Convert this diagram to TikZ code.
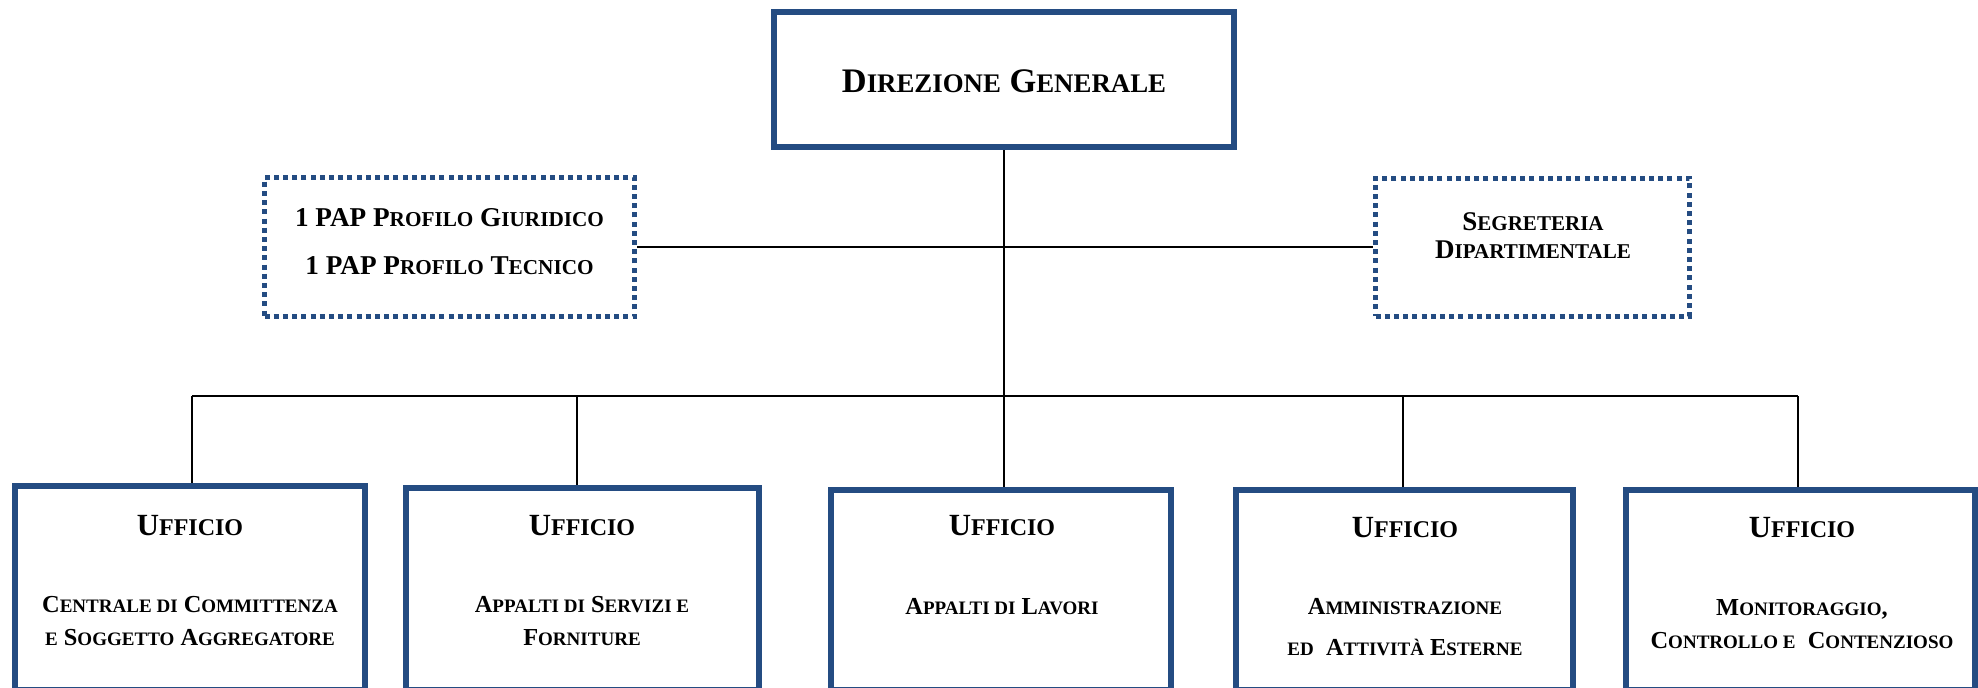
\documentclass[tikz,border=0pt]{standalone}
\usepackage{fontspec}
\setmainfont{Liberation Serif}
\makeatletter
\newcommand\sm[1]{{\@tempdima=\f@size pt \@tempdima=0.78\@tempdima \fontsize{\strip@pt\@tempdima}{0pt}\selectfont #1}}
\makeatother
\definecolor{boxblue}{HTML}{244C82}
\tikzset{
  mainbox/.style={draw=boxblue, line width=3pt, rectangle, inner sep=0pt, fill=white},
  dotbox/.style={draw=boxblue, line width=2.5pt, dash pattern=on 2.5pt off 2.1pt, rectangle, inner sep=0pt, fill=white, align=center},
  conn/.style={draw=black, line width=1pt},
  txt/.style={inner sep=0pt, align=center, font=\bfseries},
}
\begin{document}
\begin{tikzpicture}[x=0.5pt,y=-0.5pt]
\useasboundingbox (0,0) rectangle (1978,687);
% top
\node[mainbox, minimum width=230pt, minimum height=67.5pt] (dg) at (1004,79.5) {};
\node[txt, font=\bfseries\fontsize{17.2}{20}\selectfont] (dgt) at (1004,81) {D\sm{IREZIONE} G\sm{ENERALE}};
% staff boxes
\node[dotbox, minimum width=185pt, minimum height=69.5pt] (pap) at (449.5,247) {};
\node[txt, font=\bfseries\fontsize{13.6}{24}\selectfont] (papt) at (449.5,242) {1 PAP P\sm{ROFILO} G\sm{IURIDICO}\\1 PAP P\sm{ROFILO} T\sm{ECNICO}};
\node[dotbox, minimum width=157pt, minimum height=69pt] (seg) at (1532.5,247) {};
\node[txt, font=\bfseries\fontsize{13.5}{14}\selectfont] (segt) at (1533,236) {S\sm{EGRETERIA}\\D\sm{IPARTIMENTALE}};
% offices
\node[mainbox, minimum width=175pt, minimum height=102pt] (u1) at (190,588) {};
\node[mainbox, minimum width=176.5pt, minimum height=101pt] (u2) at (582.5,589) {};
\node[mainbox, minimum width=170pt, minimum height=100pt] (u3) at (1001,590) {};
\node[mainbox, minimum width=168.5pt, minimum height=100pt] (u4) at (1404.5,590) {};
\node[mainbox, minimum width=174.5pt, minimum height=100pt] (u5) at (1800.5,590) {};
% office texts
\tikzset{ut/.style={txt, font=\bfseries\fontsize{15.4}{17}\selectfont},
         ud/.style={txt, font=\bfseries\fontsize{12.2}{16.5}\selectfont}}
\node[ut] (u1t) at (190,526) {U\sm{FFICIO}};
\node[ud] (u1d) at (190,621.5) {C\sm{ENTRALE DI} C\sm{OMMITTENZA}\\\sm{E} S\sm{OGGETTO} A\sm{GGREGATORE}};
\node[ut] (u2t) at (582,526) {U\sm{FFICIO}};
\node[ud] (u2d) at (582,621.5) {A\sm{PPALTI DI} S\sm{ERVIZI E}\\F\sm{ORNITURE}};
\node[ut] (u3t) at (1002,526) {U\sm{FFICIO}};
\node[ud] (u3d) at (1002,607) {A\sm{PPALTI DI} L\sm{AVORI}};
\node[ut] (u4t) at (1405,528) {U\sm{FFICIO}};
\node[ud, font=\bfseries\fontsize{12.2}{20.5}\selectfont] (u4d) at (1405,627.5) {A\sm{MMINISTRAZIONE}\\\sm{ED}\ \ A\sm{TTIVIT}\sm{À} E\sm{STERNE}};
\node[ut] (u5t) at (1802,528) {U\sm{FFICIO}};
\node[ud] (u5d) at (1802,624) {M\sm{ONITORAGGIO},\\C\sm{ONTROLLO E}\ \ C\sm{ONTENZIOSO}};
% connectors
\coordinate (bus) at (1004,396);
\coordinate (b1) at (192,396);
\coordinate (b2) at (577,396);
\coordinate (b4) at (1403,396);
\coordinate (b5) at (1798,396);
\draw[conn] (pap.east) -- (seg.west);
\draw[conn] (dg.south) -- (dg.south |- u3.north);
\draw[conn] (b1) -- (b5);
\draw[conn] (b1) -- (b1 |- u1.north);
\draw[conn] (b2) -- (b2 |- u2.north);
\draw[conn] (b4) -- (b4 |- u4.north);
\draw[conn] (b5) -- (b5 |- u5.north);
\end{tikzpicture}
\end{document}
